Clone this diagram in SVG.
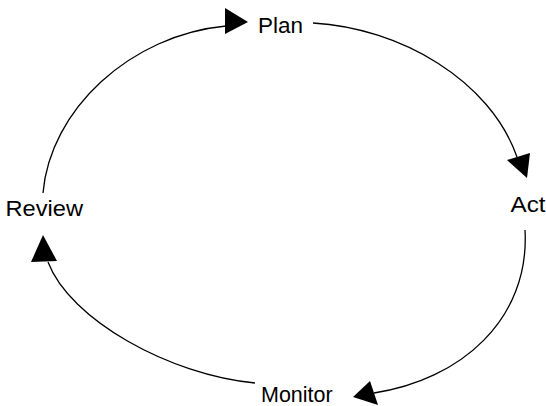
<svg xmlns="http://www.w3.org/2000/svg" width="546" height="406" viewBox="0 0 546 406">
<style>
.lbl{font-family:"Liberation Sans",Arial,sans-serif;font-size:21.5px;fill:#000}
.edge{fill:none;stroke:#000;stroke-width:1.3}
.head{fill:#000;stroke:none}
</style>
<rect width="546" height="406" fill="#fff"/>
<g id="connectors">
<path class="edge" d="M43,193 C50,110 130,35 226,26"/>
<polygon class="head" points="225,8 225,34 248,22"/>
<path class="edge" d="M313,23 C400,28 490,80 517,157"/>
<polygon class="head" points="507,160 530,153 527,178"/>
<path class="edge" d="M525,230 C530,320 460,380 374,393"/>
<polygon class="head" points="370,381 378,405 353,397"/>
<path class="edge" d="M255,383 C170,375 70,320 48,262"/>
<polygon class="head" points="43,235 31,262 57,261"/>
</g>
<g id="plan"><text class="lbl" x="258" y="32.5" textLength="45" lengthAdjust="spacingAndGlyphs">Plan</text></g>
<g id="act"><text class="lbl" x="510.5" y="212" textLength="35" lengthAdjust="spacingAndGlyphs">Act</text></g>
<g id="monitor"><text class="lbl" x="261" y="402">Monitor</text></g>
<g id="review"><text class="lbl" x="5.5" y="215.5" textLength="77.5" lengthAdjust="spacingAndGlyphs">Review</text></g>
</svg>
